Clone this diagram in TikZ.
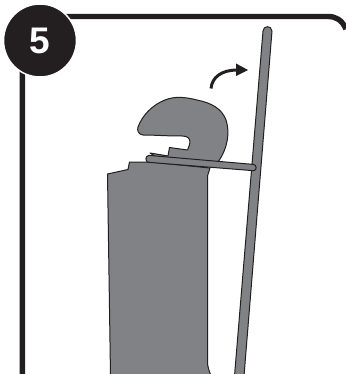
\documentclass[tikz,border=0pt]{standalone}
\usepackage{fontspec}
\setmainfont{Liberation Sans}
\definecolor{ink}{HTML}{231F20}
\definecolor{part}{HTML}{808285}
\tikzset{partshape/.style={fill=part,draw=ink,line width=1pt,line join=round}}
\begin{document}
\begin{tikzpicture}[x=1pt,y=-1pt]
\useasboundingbox (0,0) rectangle (345,374);
% frame
\draw[ink,line width=5.4pt] (22.3,374) -- (22.3,60) -- (22.3,16.5) -- (328,16.5) .. controls (336,16.5) and (342,20) .. (346,29);
% badge
\node[circle,fill=ink,draw=white,line width=1.5pt,minimum size=73pt,inner sep=0pt,text=white,font=\bfseries\fontsize{37}{37}\selectfont] (badge) at (40,40.5) {5};
% lever
\draw[partshape] (234.5,376) -- (263,31) .. controls (263.3,25.5) and (271.5,25) .. (272,31) -- (244,376) -- cycle;
% body
\draw[partshape] (110.5,376) -- (107.5,174) -- (128,169.5) -- (129.5,162) -- (150,162) -- (210,168) -- (207.5,176) -- (207.5,362) .. controls (207.5,367) and (209,370) .. (211,376) -- cycle;
% head
\draw[partshape] (150,153) -- (168,156) -- (169.5,147.5) -- (187.5,150) .. controls (189,146) and (190,144) .. (190,142) .. controls (190,138) and (187,136) .. (182,136) .. controls (165,136) and (155,135) .. (143,135) .. controls (138,134.5) and (137,130) .. (138,127) .. controls (142,116) and (152,105) .. (165,100) .. controls (175,96) and (185,97) .. (197,100) .. controls (212,103) and (222,109) .. (226,120) .. controls (230,132) and (228,148) .. (218,162) -- (160,160) -- cycle;
% bar
\draw[partshape] (149,155.4) -- (253.5,164.4) .. controls (257,164.8) and (257,170.8) .. (253.5,170.7) -- (148.5,162.3) .. controls (145,162) and (145,155.4) .. (149,155.4) -- cycle;
% arrow
\coordinate (arrowstart) at (211,88.5);
\coordinate (arrowend) at (237,70);
\coordinate (arrowtip) at (248,70);
\draw[ink,line width=3pt] (arrowstart) .. controls (212,77) and (222,70) .. (arrowend);
\fill[ink] (arrowtip) -- (236,63.5) -- (236,76) -- cycle;
\end{tikzpicture}
\end{document}
